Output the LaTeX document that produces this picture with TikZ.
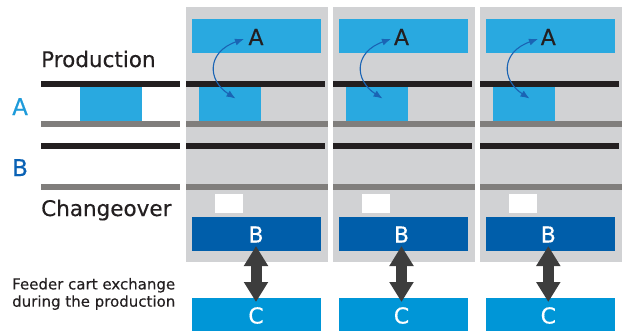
\documentclass[tikz,border=0pt]{standalone}
\usepackage{fontspec}
\setmainfont{DejaVu Sans}[FakeBold=0.4]
\usetikzlibrary{arrows.meta}
\definecolor{panelgray}{HTML}{D1D2D4}
\definecolor{lineblack}{HTML}{231F20}
\definecolor{linegray}{HTML}{807E7C}
\definecolor{lightblue}{HTML}{29A9E0}
\definecolor{darkblue}{HTML}{005EAA}
\definecolor{cblue}{HTML}{0096D7}
\definecolor{arrowgray}{HTML}{3D3D3D}
\definecolor{curveblue}{HTML}{1A64B4}
\definecolor{labelA}{HTML}{1E9BDA}
\definecolor{labelB}{HTML}{0A62B5}
\tikzset{
  box/.style={rectangle, inner sep=0pt, outer sep=0pt, anchor=north west},
  letter/.style={inner sep=0pt, font=\fontsize{22}{22}\selectfont},
  bigtext/.style={inner sep=0pt, anchor=base west, font=\fontsize{21.5}{22}\selectfont, text=lineblack},
  curvearrow/.style={curveblue, line width=1.1pt, {Latex[length=9pt,width=7pt]}-{Latex[length=9pt,width=7pt]}},
  bigarrow/.style={arrowgray, line width=11pt, {Triangle[length=20pt,width=23pt]}-{Triangle[length=20pt,width=23pt]}}
}
\begin{document}
\begin{tikzpicture}[x=1pt,y=-1pt]
\useasboundingbox (0,0) rectangle (622,330);
% left part
\fill[lineblack] (41,81) rectangle (180,87);
\fill[linegray] (41,121) rectangle (180,127);
\fill[lineblack] (41,143) rectangle (180,149);
\fill[linegray] (41,184) rectangle (180,190);
\node[box, fill=lightblue, minimum width=62pt, minimum height=34pt] (a0) at (80,87) {};
\node[bigtext] (prod) at (41,67) {Production};
\node[bigtext] (chg) at (41,216) {Changeover};
\node[inner sep=0pt, anchor=base west, font=\fontsize{23}{23}\selectfont, text=labelA] (la) at (12,115) {A};
\node[inner sep=0pt, anchor=base west, font=\fontsize{23}{23}\selectfont, text=labelB] (lb) at (12,176) {B};
\node[inner sep=0pt, anchor=base west, align=left, font=\fontsize{15}{17.3}\selectfont, text=lineblack] (feed) at (12,306.7) {Feeder cart exchange\\during the production};
% panels
\foreach \i/\L/\X in {1/186/256, 2/333/401.5, 3/480/548.3} {
  \node[box, fill=panelgray, minimum width=142pt, minimum height=255pt] (p\i) at (\L,7) {};
  \node[box, fill=lightblue, minimum width=129pt, minimum height=34pt] (ta\i) at (\L+6,19) {};
  \fill[lineblack] (\L,81) rectangle (\L+139,87);
  \fill[linegray] (\L,121) rectangle (\L+142,127);
  \fill[lineblack] (\L,143) rectangle (\L+139,149);
  \fill[linegray] (\L,184) rectangle (\L+142,190);
  \node[box, fill=lightblue, minimum width=62pt, minimum height=34pt] (sa\i) at (\L+13,87) {};
  \node[box, fill=white, minimum width=28pt, minimum height=19pt] (w\i) at (\L+29,194) {};
  \node[box, fill=darkblue, minimum width=129pt, minimum height=34pt] (bb\i) at (\L+6,217) {};
  \node[box, fill=cblue, minimum width=129pt, minimum height=34pt] (cc\i) at (\L+6,298) {};
  \node[letter, text=lineblack] (la\i) at (\X,37) {A};
  \node[letter, text=white] (lb\i) at (\X,234.5) {B};
  \node[letter, text=white] (lc\i) at (\X,315.5) {C};
  \coordinate (cs\i) at (\L+49.5,98.5);
  \coordinate (ce\i) at (\L+58,39);
  \draw[curvearrow] (cs\i) .. controls (\L+21,80) and (\L+21,52) .. (ce\i);
  \coordinate (ut\i) at (\X,246);
  \coordinate (dt\i) at (\X,302);
  \draw[bigarrow] (ut\i) -- (dt\i);
}
\end{tikzpicture}
\end{document}
